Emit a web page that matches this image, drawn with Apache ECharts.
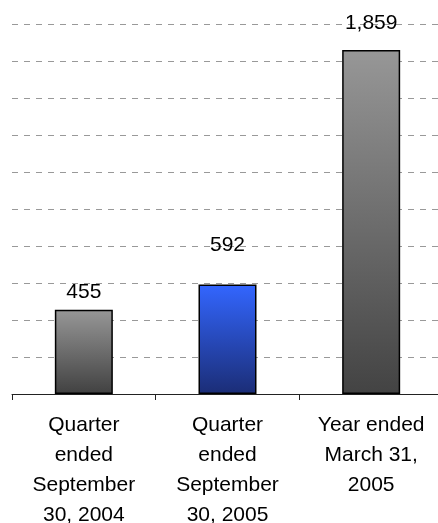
<!DOCTYPE html>
<html>
<head>
<meta charset="utf-8">
<script src="https://cdn.jsdelivr.net/npm/echarts@6/dist/echarts.min.js"></script>
<style>
html,body{margin:0;padding:0;background:#fff;}
#c{width:438px;height:523px;}
</style>
</head>
<body>
<div id="c"></div>
<script>
// Data
const categories = ['Quarter\nended\nSeptember\n30, 2004', 'Quarter\nended\nSeptember\n30, 2005', 'Year ended\nMarch 31,\n2005'];
const values = [455, 592, 1859];
const yTicks = { min: 0, max: 2000, interval: 200 };

// Styles (not data)
const labelDistances = [7, 28.5, 16.5];
const barGradients = [
  ['#979797', '#414141'],
  ['#3366ff', '#1b2d76'],
  ['#979797', '#434343']
];

const chart = echarts.init(document.getElementById('c'), null, { renderer: 'canvas' });
const FONT = 'Arial, "Liberation Sans", sans-serif';

chart.setOption({
  animation: false,
  backgroundColor: '#ffffff',
  grid: { left: 12, top: 24, width: 431, bottom: 129, containLabel: false, outerBoundsMode: 'none' },
  xAxis: {
    type: 'category',
    data: categories,
    boundaryGap: true,
    axisLine: { show: true, lineStyle: { color: '#222', width: 1 } },
    axisTick: { show: true, length: 6, lineStyle: { color: '#222', width: 1 } },
    axisLabel: {
      color: '#000', fontSize: 21, lineHeight: 30, fontFamily: FONT,
      margin: 16, interval: 0, align: 'center', hideOverlap: false
    },
    splitLine: { show: false }
  },
  yAxis: {
    type: 'value',
    min: yTicks.min, max: yTicks.max, interval: yTicks.interval,
    axisLine: { show: false },
    axisTick: { show: false },
    axisLabel: { show: false },
    splitLine: { show: true, lineStyle: { color: '#999', width: 1, type: [6, 6] } }
  },
  series: [{
    type: 'bar',
    barWidth: 58,
    data: values.map((v, i) => ({
      value: v,
      itemStyle: {
        color: new echarts.graphic.LinearGradient(0, 0, 0, 1, [
          { offset: 0, color: barGradients[i][0] },
          { offset: 1, color: barGradients[i][1] }
        ]),
        borderColor: '#000', borderWidth: 1.5
      },
      label: { distance: labelDistances[i] }
    })),
    label: {
      show: true, position: 'top', color: '#000', fontSize: 21, fontFamily: FONT,
      formatter: p => p.value.toLocaleString('en-US')
    }
  }]
});
</script>
</body>
</html>
